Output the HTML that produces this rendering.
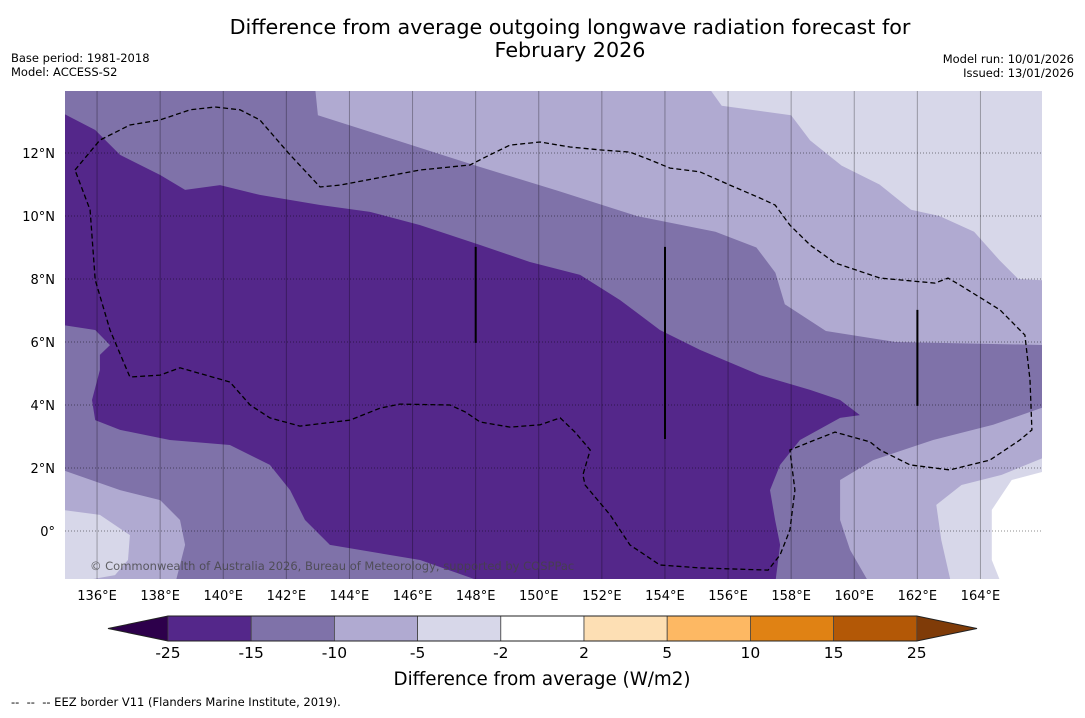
<!DOCTYPE html>
<html><head><meta charset="utf-8"><style>
body{margin:0;background:#fff;width:1085px;height:713px;overflow:hidden;font-family:"Liberation Sans","DejaVu Sans",sans-serif;}
svg text{font-family:"DejaVu Sans","Liberation Sans",sans-serif;}
</style></head><body>
<svg id="chart" width="1085" height="713" viewBox="0 0 1085 713" xmlns="http://www.w3.org/2000/svg">
<text x="570" y="34" font-size="20.7" text-anchor="middle">Difference from average outgoing longwave radiation forecast for</text>
<text x="570" y="57" font-size="20.7" text-anchor="middle">February 2026</text>
<text x="11" y="62" font-size="11.5">Base period: 1981-2018</text>
<text x="11" y="76" font-size="11.5">Model: ACCESS-S2</text>
<text x="1074" y="63" font-size="11.5" text-anchor="end">Model run: 10/01/2026</text>
<text x="1074" y="77" font-size="11.5" text-anchor="end">Issued: 13/01/2026</text>
<defs><clipPath id="mapclip"><rect x="65" y="91" width="977" height="488"/></clipPath></defs>
<g id="map" clip-path="url(#mapclip)"></g>
<g id="axes"></g>
<g id="cbar"></g>
<text x="542" y="685" font-size="18.3" text-anchor="middle">Difference from average (W/m2)</text>
<text x="11" y="706" font-size="11.5" xml:space="preserve">--  --  -- EEZ border V11 (Flanders Marine Institute, 2019).</text>
</svg>
<script>
const lonTicks=[136,138,140,142,144,146,148,150,152,154,156,158,160,162,164];
const latTicks=[0,2,4,6,8,10,12];
const levels=[-25,-15,-10,-5,-2,2,5,10,15,25];
const levelColors=["#54278a","#7f72a9","#b0aad1","#d7d7e9","#ffffff","#fddfb4","#fdb863","#e08214","#b35806"];
const lightTop=[[142.9,14.2],[143.0,13.2],[145.5,12.4],[148,11.6],[150.6,10.8],[153.1,10],[155.6,9.5],[156.9,9.0],[157.5,8.2],[157.8,7.2],[159.1,6.35],[161.3,6.0],[166.2,5.9],[166.2,14.2]];
const lighterTop=[[155.3,14.2],[155.8,13.5],[158,13.2],[158.6,12.4],[159.6,11.6],[160.8,11.0],[161.8,10.2],[162.7,10.0],[163.8,9.5],[164.6,8.6],[165.2,8.0],[166.2,7.95],[166.2,14.2]];
const lightBL=[[134.9,1.94],[136.73,1.3],[138,0.98],[138.63,0.35],[138.79,-0.44],[138.47,-1.7],[134.9,-1.7]];
const lighterBL=[[134.9,0.67],[136.09,0.51],[137.04,-0.13],[136.98,-0.92],[136.57,-1.4],[134.9,-1.7]];
const lightBR=[[166.2,4.0],[164.4,3.37],[162.5,2.89],[160.6,2.25],[159.55,1.62],[159.55,0.35],[159.87,-0.6],[160.5,-1.7],[166.2,-1.7]];
const lighterBR=[[166.2,2.41],[164.67,1.78],[163.4,1.46],[162.6,0.83],[162.76,-0.29],[163.08,-1.7],[166.2,-1.7]];
const whiteBR=[[166.2,1.94],[164.99,1.62],[164.36,0.67],[164.36,-0.92],[164.67,-1.7],[166.2,-1.7]];
const darkBand=[[134.9,13.27],[135.94,12.73],[136.73,11.94],[138.0,11.3],[138.79,10.83],[139.9,10.98],[141.16,10.67],[143.07,10.35],[144.65,10.13],[146.24,9.71],[148.14,9.08],[149.72,8.54],[151.31,8.13],[152.58,7.33],[153.84,6.38],[155.11,5.75],[157.01,4.95],[158.6,4.48],[159.55,4.16],[160.18,3.68],[159.55,3.59],[158.28,2.89],[157.65,2.1],[157.33,1.3],[157.49,0.35],[157.65,-0.44],[157.49,-1.7],[148.45,-1.7],[146.24,-0.92],[143.38,-0.44],[142.59,0.35],[142.12,1.3],[141.48,2.1],[140.21,2.73],[138.31,2.89],[136.73,3.21],[135.94,3.52],[135.84,4.16],[136.09,5.11],[136.09,5.59],[136.41,5.9],[135.94,6.38],[134.9,6.54]];
const eez=[[135.30,11.46],[136.09,12.41],[137.04,12.89],[138.0,13.05],[138.95,13.37],[139.74,13.46],[140.53,13.37],[141.16,13.05],[142.12,11.94],[143.07,10.92],[143.7,10.98],[146.24,11.46],[147.82,11.62],[148.45,11.94],[149.09,12.25],[150.04,12.35],[150.99,12.19],[151.94,12.1],[152.89,12.03],[153.53,11.78],[154.16,11.52],[155.11,11.4],[156.06,10.98],[157.01,10.57],[157.49,10.35],[157.96,9.71],[158.6,9.08],[159.39,8.51],[160.82,8.03],[162.56,7.87],[162.97,8.03],[163.35,7.81],[164.62,7.02],[165.41,6.22],[165.57,4.79],[165.63,3.21],[165.25,2.89],[164.3,2.25],[163.03,1.94],[161.77,2.1],[160.82,2.57],[160.5,2.83],[159.39,3.14],[158.6,2.83],[157.96,2.57],[158.12,1.3],[157.96,0.03],[157.65,-0.76],[157.27,-1.24],[155.11,-1.17],[153.84,-1.08],[152.89,-0.44],[152.26,0.51],[151.47,1.46],[151.4,1.78],[151.63,2.57],[151.15,3.14],[150.68,3.59],[150.04,3.37],[149.09,3.3],[148.14,3.46],[147.67,3.78],[147.19,4.0],[145.6,4.03],[144.97,3.9],[144.02,3.52],[142.43,3.33],[141.48,3.59],[140.85,4.0],[140.21,4.73],[138.63,5.18],[138.0,4.95],[137.04,4.89],[136.41,6.38],[135.94,7.97],[135.78,10.19],[135.30,11.46]];
const eezSegments=[[[148,9.02],[148,5.97]],[[154,9.02],[154,2.92]],[[162,7.02],[162,3.97]]];

const NS="http://www.w3.org/2000/svg";
const X0=65.5,Y0=531,PX=31.55,PY=31.5;
function xs(lon){return X0+(lon-135)*PX;}
function ys(lat){return Y0-lat*PY;}
function mk(tag,attrs,parent){const e=document.createElementNS(NS,tag);for(const k in attrs)e.setAttribute(k,attrs[k]);parent.appendChild(e);return e;}
function pts(a){return a.map(p=>xs(p[0]).toFixed(1)+","+ys(p[1]).toFixed(1)).join(" ");}
const map=document.getElementById("map");
const bg=mk("rect",{x:65,y:91,width:977,height:488,fill:levelColors[1]},map);


const regions=[[lightTop,2,'contour-light-top'],[lighterTop,3,'contour-lighter-top'],[lightBL,2,'contour-light-bottom-left'],[lighterBL,3,'contour-lighter-bottom-left'],[lightBR,2,'contour-light-bottom-right'],[lighterBR,3,'contour-lighter-bottom-right'],[whiteBR,4,'contour-neutral-bottom-right'],[darkBand,0,'contour-dark-band']];
regions.forEach(r=>{const p=mk("polygon",{points:pts(r[0]),fill:levelColors[r[1]]},map);

});
lonTicks.forEach(l=>{const g=mk("line",{x1:xs(l),x2:xs(l),y1:91,y2:579,stroke:"#000","stroke-opacity":0.3,"stroke-width":1},map);

});
latTicks.forEach(l=>{const g=mk("line",{x1:65,x2:1042,y1:ys(l),y2:ys(l),stroke:"#000","stroke-opacity":0.45,"stroke-width":1,"stroke-dasharray":"1,2"},map);

});
const e=mk("polyline",{points:pts(eez),fill:"none",stroke:"#000","stroke-width":1.3,"stroke-dasharray":"5,3"},map);


eezSegments.forEach(s=>{const l=mk("polyline",{points:pts(s),fill:"none",stroke:"#000","stroke-width":2},map);

});
const cp=mk("text",{x:90,y:570,"font-size":11.5,fill:"#444","fill-opacity":0.8},map);cp.textContent="© Commonwealth of Australia 2026, Bureau of Meteorology, supported by COSPPac";


const ax=document.getElementById("axes");
lonTicks.forEach(l=>{const t=mk("text",{x:xs(l),y:600,"font-size":13,"text-anchor":"middle"},ax);t.textContent=l+"°E";

});
latTicks.forEach(l=>{const t=mk("text",{x:55,y:ys(l)+5,"font-size":13,"text-anchor":"end"},ax);t.textContent=l===0?"0°":l+"°N";

});
const cb=document.getElementById("cbar");
const CX0=168,CW=83.2,CY=616,CH=25;
const lt=mk("polygon",{points:`108,${CY+CH/2} ${CX0},${CY} ${CX0},${CY+CH}`,fill:"#2d004b"},cb);


const rt=mk("polygon",{points:`977,${CY+CH/2} ${CX0+9*CW},${CY} ${CX0+9*CW},${CY+CH}`,fill:"#7f3b08"},cb);


levelColors.forEach((c,i)=>{const r=mk("rect",{x:CX0+i*CW,y:CY,width:CW,height:CH,fill:c,stroke:"#444","stroke-width":0.8},cb);

});
const ol=mk("polygon",{points:`108,${CY+CH/2} ${CX0},${CY} ${CX0+9*CW},${CY} 977,${CY+CH/2} ${CX0+9*CW},${CY+CH} ${CX0},${CY+CH}`,fill:"none",stroke:"#222","stroke-width":1},cb);


levels.forEach((v,i)=>{const t=mk("text",{x:CX0+i*CW,y:658,"font-size":15.5,"text-anchor":"middle"},cb);t.textContent=v;

});
</script>
</body></html>
